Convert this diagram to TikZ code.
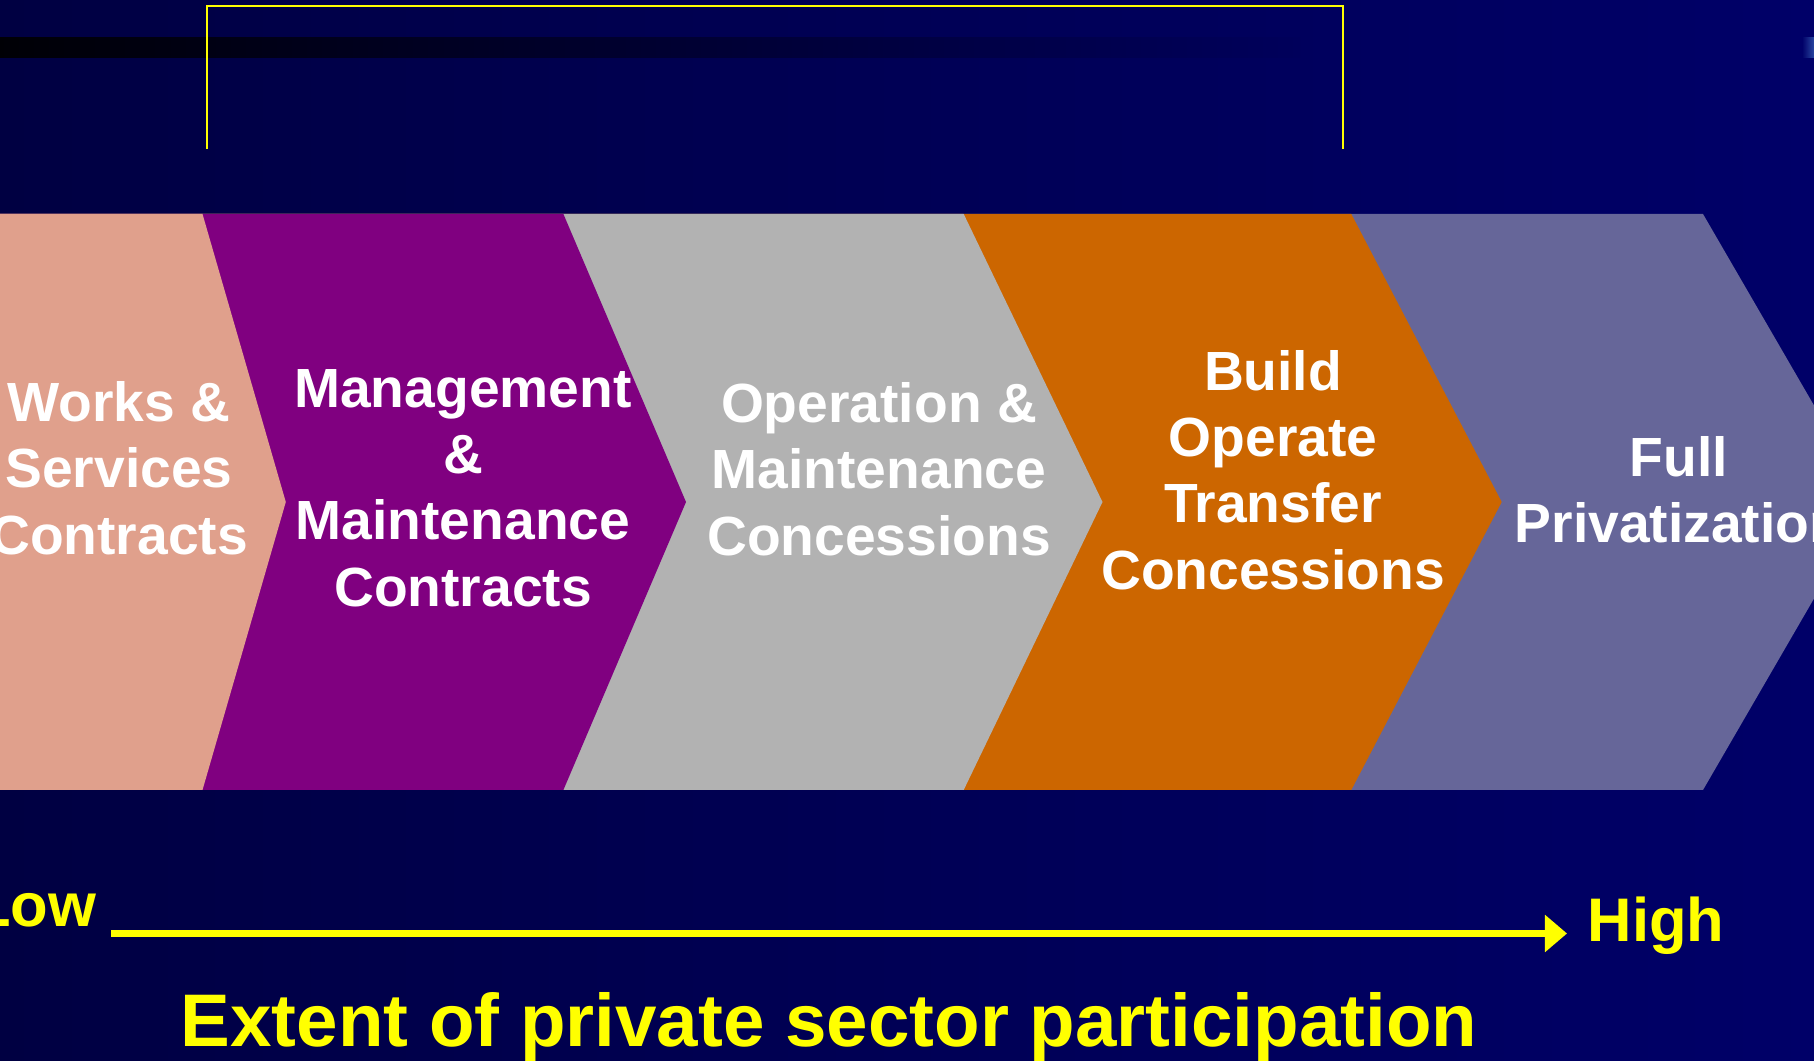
\documentclass[tikz,border=0pt]{standalone}
\usepackage{fontspec}
\setmainfont{Liberation Sans}
\usepackage{xcolor}
\usepackage{tikz}
\usetikzlibrary{arrows.meta}

\definecolor{bgleft}{RGB}{0,0,66}
\definecolor{bgright}{RGB}{0,0,104}
\definecolor{barend}{RGB}{0,0,91}
\definecolor{worksc}{RGB}{224,160,140}
\definecolor{mgmtc}{RGB}{128,0,128}
\definecolor{omc}{RGB}{178,178,178}
\definecolor{botc}{RGB}{204,102,0}
\definecolor{privc}{RGB}{102,102,153}
\definecolor{hiyellow}{RGB}{255,255,0}

\begin{document}
\begin{tikzpicture}[
  x=0.01cm, y=-0.01cm,
  stagetext/.style={
     text=white, align=center, inner sep=0pt,
     font=\bfseries\fontsize{15.7}{18.9}\selectfont},
  scaletext/.style={
     text=hiyellow, inner sep=0pt,
     font=\bfseries\fontsize{17.5}{21}\selectfont},
  bracket/.style={draw=hiyellow, line width=0.6pt},
  axis/.style={-{Triangle[length=0.22cm,width=0.36cm]},
     draw=hiyellow, line width=0.07cm}]
\useasboundingbox (0,0) rectangle (1814,1061);
\clip (0,0) rectangle (1814,1061);
% background
\shade[left color=bgleft, right color=bgright] (0,0) rectangle (1814,1061);
\shade[left color=black!92!bgleft, right color=barend] (0,38) rectangle (1300,58);
\shade[left color=bgright, right color={rgb,255:red,40;green,70;blue,160}] (1802,38) rectangle (1814,58);
% bracket on top
\coordinate (bracketL) at (206.6,149);
\coordinate (bracketR) at (1343,149);
\draw[bracket] (bracketL) -- ++(0,-143) -| (bracketR);
% chevrons, painted from right to left
\fill[privc] (-20,214) -- (1703,214) -- (1870,502) -- (1703,790) -- (-20,790) -- cycle;
\fill[botc]  (-20,214) -- (1351.3,214) -- (1501.7,502) -- (1351.3,790) -- (-20,790) -- cycle;
\fill[omc]   (-20,214) -- (963.7,214) -- (1102.5,502) -- (963.7,790) -- (-20,790) -- cycle;
\fill[mgmtc] (-20,214) -- (563.4,214) -- (686,502) -- (563.4,790) -- (-20,790) -- cycle;
\fill[worksc] (-20,214) -- (202.5,214) -- (285.8,502) -- (202.5,790) -- (-20,790) -- cycle;
% stage labels
\node[stagetext] (works) at (119,468) {Works \&\\Services\\Contracts};
\node[stagetext] (mgmt)  at (463,488) {Management\\\&\\Maintenance\\Contracts};
\node[stagetext] (om)    at (879,469) {Operation \&\\Maintenance\\Concessions};
\node[stagetext] (bot)   at (1273,470) {Build\\Operate\\Transfer\\Concessions};
\node[stagetext] (priv)  at (1679,490) {Full\\Privatization};
% scale arrow
\node[scaletext, anchor=base east] (low)  at (97,926) {Low};
\node[scaletext, anchor=base west] (high) at (1587,942) {High};
\coordinate (lowend)  at (111,933.5);
\coordinate (highend) at (1567,933.5);
\draw[axis] (lowend) -- (highend);
\node[text=hiyellow, inner sep=0pt, anchor=base,
  font=\bfseries\fontsize{21.2}{25}\selectfont] (extent) at (829,1047)
  {Extent of private sector participation};
\end{tikzpicture}
\end{document}
